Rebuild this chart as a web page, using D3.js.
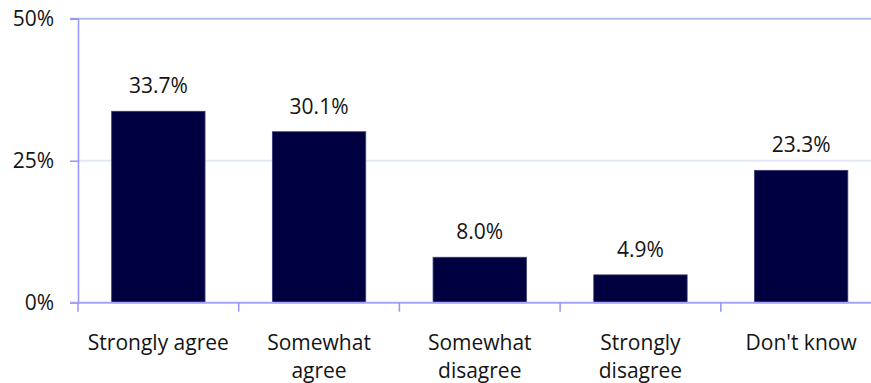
<!DOCTYPE html>
<html>
<head>
<meta charset="utf-8">
<script src="https://cdn.jsdelivr.net/npm/d3@7"></script>
<style>
  html, body { margin: 0; padding: 0; background: #ffffff; }
  svg { display: block; }
  text { font-family: "Open Sans", "Liberation Sans", sans-serif; fill: #141414; }
</style>
</head>
<body>
<script>
// Survey responses, share of respondents (%)
const categories = ["Strongly agree", "Somewhat agree", "Somewhat disagree", "Strongly disagree", "Don't know"];
const categoryLines = [["Strongly agree"], ["Somewhat", "agree"], ["Somewhat", "disagree"], ["Strongly", "disagree"], ["Don't know"]];
const values = [33.7, 30.1, 8.0, 4.9, 23.3];
const yTicks = [0, 25, 50];

const W = 871, H = 383;
const plotLeft = 78, plotTop = 18.7, plotBottom = 302.7;
const plotRight = plotLeft + 5 * 160.7;
const fontSize = 21;

const svg = d3.select("body").append("svg")
  .attr("width", W).attr("height", H);

const x = d3.scaleBand()
  .domain(categories)
  .range([plotLeft, plotRight])
  .paddingInner(0.419)
  .paddingOuter(0.2095);

const y = d3.scaleLinear().domain([0, 50]).range([plotBottom, plotTop]);

// faint gridline at the middle tick
svg.append("line")
  .attr("x1", plotLeft).attr("x2", W)
  .attr("y1", y(25)).attr("y2", y(25))
  .attr("stroke", "#e2e8f6").attr("stroke-width", 2);

// top gridline
svg.append("line")
  .attr("x1", plotLeft - 8).attr("x2", W)
  .attr("y1", y(50)).attr("y2", y(50))
  .attr("stroke", "#a9bfea").attr("stroke-width", 2);

// bars
svg.selectAll("rect.bar")
  .data(values)
  .join("rect")
  .attr("class", "bar")
  .attr("x", (d, i) => x(categories[i]))
  .attr("width", x.bandwidth())
  .attr("y", d => y(d))
  .attr("height", d => y(0) - y(d))
  .attr("fill", "#000040")
  .attr("stroke", "#3a3a78")
  .attr("stroke-width", 0.8);

// value labels
svg.selectAll("text.value")
  .data(values)
  .join("text")
  .attr("class", "value")
  .attr("x", (d, i) => x(categories[i]) + x.bandwidth() / 2)
  .attr("y", d => y(d) - 18)
  .attr("text-anchor", "middle")
  .attr("font-size", fontSize)
  .text(d => d.toFixed(1) + "%");

// y axis
const yAxis = svg.append("g")
  .attr("transform", `translate(${plotLeft},0)`)
  .call(d3.axisLeft(y).tickValues(yTicks).tickFormat(d => d + "%").tickSize(8).tickPadding(16));
yAxis.select(".domain").attr("stroke", "#9494fa").attr("stroke-width", 1.5);
yAxis.selectAll(".tick line").attr("stroke", "#9494fa").attr("stroke-width", 1.5);
yAxis.selectAll(".tick text")
  .attr("font-size", fontSize)
  .attr("font-family", "Open Sans, Liberation Sans, sans-serif")
  .attr("fill", "#141414");

// x axis baseline
svg.append("line")
  .attr("x1", plotLeft - 8).attr("x2", W)
  .attr("y1", y(0)).attr("y2", y(0))
  .attr("stroke", "#a4a4f8").attr("stroke-width", 2);

// category boundary ticks
const step = x.step();
const boundaries = categories.map(c => x(c) - (step - x.bandwidth()) / 2);
svg.selectAll("line.xtick")
  .data(boundaries)
  .join("line")
  .attr("class", "xtick")
  .attr("x1", d => d).attr("x2", d => d)
  .attr("y1", y(0)).attr("y2", y(0) + 9)
  .attr("stroke", "#9494fa").attr("stroke-width", 1.5);

// category labels
categoryLines.forEach((lines, i) => {
  const cx = x(categories[i]) + x.bandwidth() / 2;
  const t = svg.append("text")
    .attr("x", cx)
    .attr("y", 350)
    .attr("text-anchor", "middle")
    .attr("font-size", fontSize);
  lines.forEach((ln, j) => {
    t.append("tspan")
      .attr("x", cx)
      .attr("dy", j === 0 ? 0 : 28)
      .text(ln);
  });
});
</script>
</body>
</html>
